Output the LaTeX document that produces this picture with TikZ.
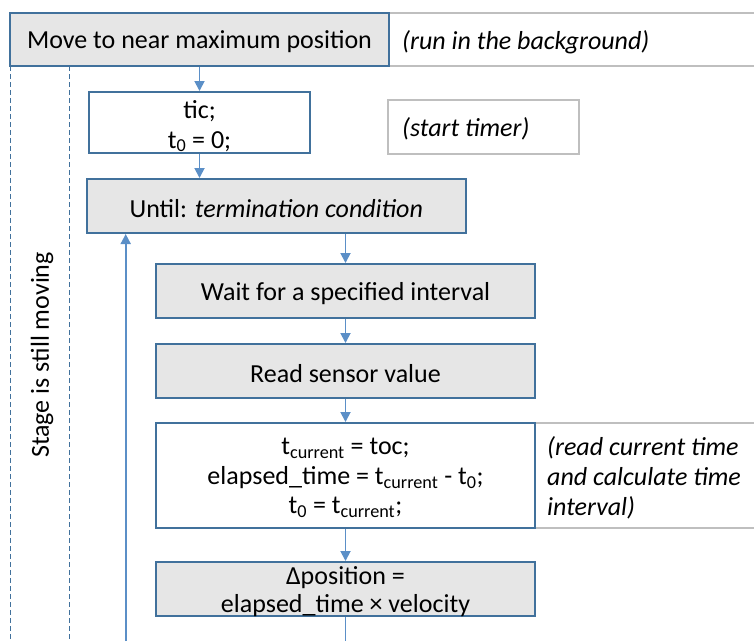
\documentclass[tikz,border=0pt]{standalone}
\usepackage{fontspec}
\setmainfont{Carlito}
\usetikzlibrary{arrows.meta}
\definecolor{boxblue}{HTML}{41719C}
\definecolor{arrblue}{HTML}{5B8FC7}
\definecolor{boxgray}{HTML}{E6E6E6}
\definecolor{notegray}{HTML}{BFBFBF}
\begin{document}
\begin{tikzpicture}[x=1pt,y=-1pt,
  every node/.style={font=\fontsize{26}{30}\selectfont, inner sep=0pt},
  graybox/.style={draw=boxblue, line width=2pt, fill=boxgray},
  whitebox/.style={draw=boxblue, line width=2pt, fill=white},
  txt/.style={align=center, yshift=-2.5pt},
  notebox/.style={draw=notegray, line width=1.2pt},
  noteline/.style={draw=notegray, line width=1.2pt},
  conn/.style={draw=arrblue, line width=1.8pt, -{Triangle[length=10pt,width=10pt]}},
  plainconn/.style={draw=arrblue, line width=1.8pt},
  divider/.style={draw=boxblue, line width=1.8pt, dash pattern=on 5pt off 3pt},
  notetext/.style={font=\fontsize{26}{30}\selectfont\itshape, align=left, anchor=west, yshift=-2pt}
]
\useasboundingbox (0,0) rectangle (754,641);

% note strips (behind)
\coordinate (n1r) at (760,13);
\coordinate (n1rb) at (760,66);
\draw[noteline] (389,13) -- (n1r);
\draw[noteline] (389,66) -- (n1rb);
\node[notetext] (bgtext) at (402,40) {(run in the background)};

\node[notebox, minimum width=191pt, minimum height=54pt] (timerbox) at (483.5,127) {};
\node[notetext] (timertext) at (402,127) {(start timer)};

\coordinate (n3t) at (760,423);
\coordinate (n3b) at (760,528);
\draw[noteline] (535,423) -- (n3t);
\draw[noteline] (535,528) -- (n3b);
\node[notetext] (curtext) at (547,476) {(read current time\\and calculate time\\interval)};

% dashed dividers
\coordinate (d1t) at (10.5,66);
\coordinate (d1b) at (10.5,641);
\coordinate (d2t) at (69.5,66);
\coordinate (d2b) at (69.5,641);
\draw[divider] (d1t) -- (d1b);
\draw[divider] (d2t) -- (d2b);
\node[rotate=90] (stage) at (42,355) {Stage is still moving};

% boxes
\node[graybox, minimum width=379pt, minimum height=53pt] (move) at (199.5,39.5) {};
\node[txt] (move-t) at (move.center) {Move to near maximum position};
\node[whitebox, minimum width=221pt, minimum height=61pt] (tic) at (199.5,122.5) {};
\node[txt, yshift=-1pt] (tic-t) at (tic.center) {tic;\\t\textsubscript{0} = 0;};
\node[graybox, minimum width=379.5pt, minimum height=54pt] (until) at (276.25,206) {};
\node[txt] (until-t) at (until.center) {Until: \textit{termination condition}};
\node[graybox, minimum width=379pt, minimum height=54pt] (wait) at (345.5,291) {};
\node[txt] (wait-t) at (wait.center) {Wait for a specified interval};
\node[graybox, minimum width=379pt, minimum height=54pt] (read) at (345.5,371) {};
\node[txt] (read-t) at (read.center) {Read sensor value};
\node[whitebox, minimum width=379pt, minimum height=105pt] (tcur) at (345.5,475.5) {};
\node[txt, font=\fontsize{26}{29.5}\selectfont] (tcur-t) at (tcur.center) {t\textsubscript{current} = toc;\\elapsed\_time = t\textsubscript{current} - t\textsubscript{0};\\t\textsubscript{0} = t\textsubscript{current};};
\node[graybox, minimum width=379pt, minimum height=54pt] (delta) at (345.5,589) {};
\node[txt, font=\fontsize{26}{28.5}\selectfont] (delta-t) at (delta.center) {Δposition =\\elapsed\_time × velocity};

% connectors
\draw[conn] (move.south -| tic.north) -- (tic.north);
\draw[conn] (tic.south) -- (tic.south |- until.north);
\draw[conn] (until.south -| wait.north) -- (wait.north);
\draw[conn] (wait.south) -- (read.north);
\draw[conn] (read.south) -- (tcur.north);
\draw[conn] (tcur.south) -- (delta.north);
\coordinate (deltaend) at (345.5,641);
\draw[plainconn] (delta.south) -- (deltaend);
\coordinate (loopstart) at (125.7,641);
\draw[conn] (loopstart) -- (loopstart |- until.south);
\end{tikzpicture}
\end{document}
